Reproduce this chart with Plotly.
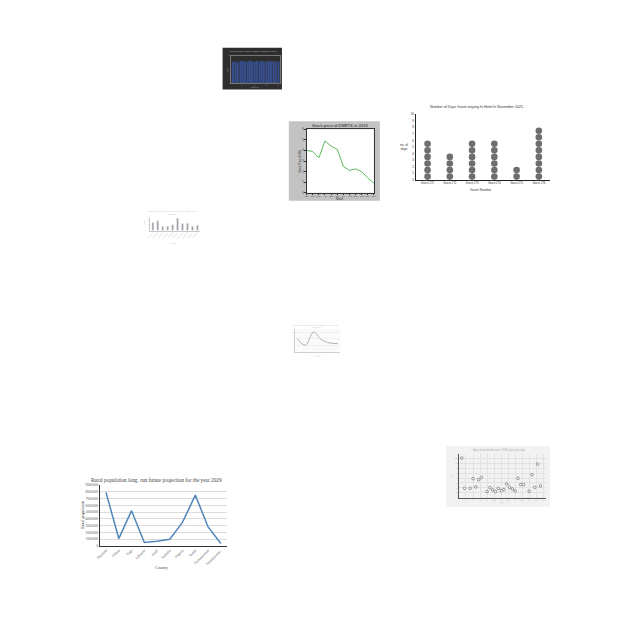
import plotly.graph_objects as go

# ---------------- data ----------------
dark_bar_index = list(range(1, 21))
dark_bar_values = [78, 80, 76, 82, 79, 81, 77, 83, 80, 78, 82, 79, 81, 80, 77, 83, 79, 81, 78, 80]

stock_months = ["Jan", "Feb", "Mar", "Apr", "May", "Jun", "Jul", "Aug", "Sep", "Oct", "Nov", "Dec"]
stock_price = [4.0, 3.9, 3.3, 4.9, 4.4, 4.1, 2.5, 2.1, 2.25, 2.0, 1.4, 0.9]

guests = ["Guest 271", "Guest 272", "Guest 273", "Guest 274", "Guest 275", "Guest 276"]
guest_days = [6, 4, 6, 6, 2, 8]

small_bar_cats = ["A", "B", "C", "D", "E", "F", "G", "H", "I", "J"]
small_bar_values = [25, 30, 13, 13, 18, 38, 22, 23, 13, 17]

small_line_x = [1, 2, 3, 4, 5, 6]
small_line_y = [40, 20, 60, 37, 27, 25]

scatter_x = [1, 2, 4, 5, 6, 7, 8, 10, 11, 12, 13, 14, 15, 16, 17, 18, 19, 20, 21, 22, 23, 25, 26, 27, 28, 29]
scatter_y = [120, 29, 29, 58, 33, 55, 62, 19, 31, 24, 19, 29, 22, 25, 42, 32, 27, 21, 59, 40, 40, 20, 70, 32, 102, 36]

countries = ["Thailand", "Ghana", "Togo", "Lebanon", "Israel", "Somalia", "Nigeria", "Sudan",
             "Turkmenistan", "Trinidad and..."]
rural_pop = [7900000, 1080000, 5200000, 500000, 700000, 980000, 3500000, 7500000, 2800000, 350000]

# ---------------- helpers ----------------
W = H = 640


def xd(a, b):
    return [a / W, b / W]


def yd(top, bottom):
    return [1 - bottom / H, 1 - top / H]


def px(x):
    return x / W


def py(y):
    return 1 - y / H


fig = go.Figure()
shapes = []
ann = []


def note(text, x, y, size, color="#444", angle=0, family=None, xanchor="center"):
    d = dict(text=text, x=px(x), y=py(y), xref="paper", yref="paper", showarrow=False,
             font=dict(size=size, color=color), textangle=angle, xanchor=xanchor, yanchor="middle")
    if family:
        d["font"]["family"] = family
    ann.append(d)


def box(x0, y0, x1, y1, fill, line=None):
    shapes.append(dict(type="rect", xref="paper", yref="paper", x0=px(x0), x1=px(x1),
                       y0=py(y1), y1=py(y0), fillcolor=fill, layer="below",
                       line=dict(width=0 if line is None else 0.6, color=line or fill)))


layout = {}

# ---- chart 1: dark bar chart ----
box(221, 46, 281, 88, "#2e2e2e")
fig.add_trace(go.Bar(x=dark_bar_index, y=dark_bar_values, marker_color="#374f8e",
                     marker_line_width=0, width=0.65, xaxis="x", yaxis="y"))
layout["xaxis"] = dict(domain=xd(230, 279), anchor="y", range=[0.3, 20.7], showgrid=False,
                       showline=True, linecolor="#777", linewidth=0.6, mirror=True,
                       tickfont=dict(size=1.5, color="#888"), zeroline=False)
layout["yaxis"] = dict(domain=yd(54, 82), anchor="x", range=[0, 100], showgrid=False,
                       showline=True, linecolor="#777", linewidth=0.6, mirror=True,
                       tickfont=dict(size=1.5, color="#888"), zeroline=False)
note("Average monthly value by category across the period", 251, 49.5, 2, "#bbbbbb")
note("Category", 254, 85.5, 2, "#999")
note("Value", 225, 68, 2, "#999", angle=-90)

# ---- chart 2: stock price ----
box(288, 120, 380, 200, "#c3c3c3")
box(306, 128, 374, 192, "#ffffff")
fig.add_trace(go.Scatter(x=stock_months, y=stock_price, mode="lines",
                         line=dict(color="#5cb85c", width=1), xaxis="x2", yaxis="y2"))
layout["xaxis2"] = dict(domain=xd(306, 374), anchor="y2", showgrid=False, showline=True,
                        linecolor="#333", linewidth=0.6, mirror=True, ticks="outside", ticklen=1,
                        tickcolor="#333", tickangle=0, tickfont=dict(size=2.2, color="#333"),
                        range=[0, 11])
layout["yaxis2"] = dict(domain=yd(128, 192), anchor="x2", range=[0, 6], dtick=1, showgrid=False,
                        showline=True, linecolor="#333", linewidth=0.6, mirror=True, ticks="outside",
                        ticklen=1.5, tickcolor="#333", tickfont=dict(size=2.8, color="#333"),
                        zeroline=False)
note("Stock price of DNRTS in 2016", 340, 124.5, 4.2, "#222")
note("Month", 340, 198.3, 2.6, "#333")
note("Stock Price (USD)", 299, 160, 2.8, "#333", angle=-90)

# ---- chart 3: pictograph of guest days ----
px3, py3 = [], []
for g, d in zip(guests, guest_days):
    for k in range(d):
        px3.append(g)
        py3.append(k + 0.5)
fig.add_trace(go.Scatter(x=px3, y=py3, mode="markers",
                         marker=dict(size=6.6, color="#6e6e6e"), xaxis="x3", yaxis="y3"))
layout["xaxis3"] = dict(domain=xd(417, 552), anchor="y3", range=[-0.5, 5.5], showgrid=False,
                        showline=True, linecolor="#222", linewidth=0.6, ticks="",
                        tickfont=dict(size=2.8, color="#333"), tickangle=0)
layout["yaxis3"] = dict(domain=yd(113, 179), anchor="x3", range=[0, 10],
                        tickmode="linear", tick0=0, dtick=1, showticklabels=True,
                        showgrid=False, showline=True, linecolor="#222", linewidth=0.6,
                        ticks="outside", ticklen=1, tickcolor="#222",
                        tickfont=dict(size=3, color="#333"), zeroline=False)
note("Number of Days Guest staying In Hotel In November 2021.", 478, 106, 3.6, "#333")
note("Guest Number", 482, 189, 3.3, "#333")
note("no. of<br>days", 404, 146, 3.2, "#333")

# ---- chart 4: small faint bar chart ----
fig.add_trace(go.Bar(x=small_bar_cats, y=small_bar_values, marker_color="#9c9c9c",
                     width=0.38, xaxis="x4", yaxis="y4"))
layout["xaxis4"] = dict(domain=xd(148, 198), anchor="y4", range=[-0.5, 9.5], showgrid=False,
                        showline=True, linecolor="#c8c8c8", linewidth=0.5, tickangle=-45,
                        tickfont=dict(size=1.8, color="#bbb"),
                        ticktext=["Country " + c for c in small_bar_cats], tickvals=small_bar_cats)
layout["yaxis4"] = dict(domain=yd(217, 230), anchor="x4", range=[0, 40], showgrid=False,
                        showline=True, linecolor="#c8c8c8", linewidth=0.5,
                        tickfont=dict(size=1.5, color="#ccc"), zeroline=False)
note("Number of people aged 65 and older by country in the", 171, 210, 2, "#bdbdbd")
note("year 2020", 171, 213, 2, "#bdbdbd")
note("Country", 171, 243, 2, "#c8c8c8")
note("People", 142, 222, 1.6, "#c8c8c8", angle=-90)

# ---- chart 5: small faint line chart ----
box(294, 329, 340, 352, "#fafafa")
fig.add_trace(go.Scatter(x=small_line_x, y=small_line_y, mode="lines", line_shape="spline",
                         line=dict(color="#a0a0a0", width=0.8), xaxis="x5", yaxis="y5"))
layout["xaxis5"] = dict(domain=xd(294, 340), anchor="y5", range=[0.7, 6.3], showgrid=False,
                        showline=True, linecolor="#d0d0d0", linewidth=0.5,
                        tickfont=dict(size=1.5, color="#ccc"))
layout["yaxis5"] = dict(domain=yd(329, 352), anchor="x5", range=[0, 70], showgrid=True,
                        gridcolor="#f0f0f0", gridwidth=0.4, showline=True, linecolor="#d0d0d0",
                        linewidth=0.5, tickfont=dict(size=1.5, color="#ccc"), zeroline=False)
note("Monthly visitors to the regional museum over the year", 315, 325, 1.9, "#c8c8c8")
note("(thousands)", 315, 327.5, 1.9, "#c8c8c8")
note("Month", 317, 356, 1.8, "#ccc")

# ---- chart 6: scatter ----
box(447, 447, 552, 508, "#f2f2f2")
fig.add_trace(go.Scatter(x=scatter_x, y=scatter_y, mode="markers",
                         marker=dict(size=2.6, color="#ffffff", line=dict(color="#555", width=0.6)),
                         xaxis="x6", yaxis="y6"))
layout["xaxis6"] = dict(domain=xd(460, 548), anchor="y6", range=[0, 31], showgrid=True,
                        gridcolor="#e2e2e2", gridwidth=0.4, dtick=2.5, showline=True,
                        linecolor="#555", linewidth=0.6, tickfont=dict(size=1.6, color="#aaa"),
                        zeroline=False)
layout["yaxis6"] = dict(domain=yd(455, 499), anchor="x6", range=[0, 132], showgrid=True,
                        gridcolor="#e2e2e2", gridwidth=0.4, dtick=15, showline=True,
                        linecolor="#555", linewidth=0.6, tickfont=dict(size=1.6, color="#aaa"),
                        zeroline=False)
note("Agricultural production in 2020 (tons) per day", 500, 451, 2.6, "#aaa")
note("Day", 504, 503, 1.8, "#aaa")
note("Tons", 452, 477, 1.8, "#aaa", angle=-90)

# ---- chart 7: rural population ----
serif = "Liberation Serif"
fig.add_trace(go.Scatter(x=countries, y=rural_pop, mode="lines",
                         line=dict(color="#5286ba", width=1.5), xaxis="x7", yaxis="y7"))
layout["xaxis7"] = dict(domain=xd(96.7, 225.7), anchor="y7", range=[-0.5, 9.5], showgrid=False,
                        showline=True, linecolor="#333", linewidth=0.8, tickangle=-45,
                        tickfont=dict(size=3.6, color="#555", family=serif))
layout["yaxis7"] = dict(domain=yd(486, 547.3), anchor="x7", range=[0, 9000000], dtick=1000000,
                        tickformat="d", showgrid=True, gridcolor="#dcdcdc", gridwidth=0.5,
                        showline=True, linecolor="#333", linewidth=0.8,
                        tickfont=dict(size=3.6, color="#555", family=serif), zeroline=False)
note("Rural population long. run future projection for the year 2029", 154, 481, 5.3, "#444",
     family=serif)
note("Country", 159, 569, 4, "#555", family=serif)
note("Rural population", 80, 516, 4.2, "#444", angle=-90, family=serif)

fig.update_layout(
    width=640, height=640, margin=dict(l=0, r=0, t=0, b=0),
    paper_bgcolor="#ffffff", plot_bgcolor="rgba(0,0,0,0)",
    showlegend=False, font=dict(family="Liberation Sans"),
    shapes=shapes, annotations=ann, **layout
)
fig.write_html("out.html")
